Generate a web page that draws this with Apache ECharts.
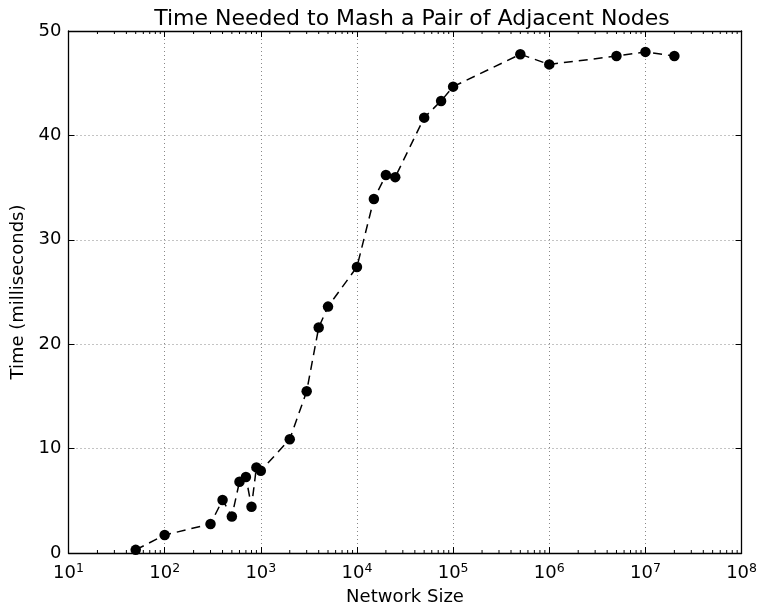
<!DOCTYPE html>
<html>
<head>
<meta charset="utf-8">
<script src="https://cdn.jsdelivr.net/npm/echarts@6/dist/echarts.min.js"></script>
<style>html,body{margin:0;padding:0;background:#fff}#c{width:760px;height:611px}</style>
</head>
<body>
<div id="c"></div>
<script>
const networkSizes = [50, 100, 300, 400, 500, 600, 700, 800, 900, 1000, 2000, 3000, 4000, 5000, 10000, 15000, 20000, 25000, 50000, 75000, 100000, 500000, 1000000, 5000000, 10000000, 20000000];
const timesMs = [0.3, 1.72, 2.78, 5.08, 3.5, 6.83, 7.28, 4.43, 8.2, 7.88, 10.9, 15.49, 21.6, 23.6, 27.4, 33.9, 36.2, 36.0, 41.7, 43.3, 44.67, 47.77, 46.8, 47.6, 48.0, 47.6];
const xMin = 10, xMax = 1e8;
const yMin = 0, yMax = 50, yStep = 10;
const titleText = 'Time Needed to Mash a Pair of Adjacent Nodes';
const xName = 'Network Size';
const yName = 'Time (milliseconds)';

// minor log ticks 2..9 x 10^n
const minorTicks = [];
for (let e = 1; e < 8; e++) for (let k = 2; k <= 9; k++) minorTicks.push([k * Math.pow(10, e), 0]);

const font = 'DejaVu Sans';
const chart = echarts.init(document.getElementById('c'), null, {renderer: 'canvas'});
const lbl = v => { const e = Math.round(Math.log10(v)); return '10{sup|' + e + '}'; };
const xAxisCommon = {
  type: 'log', logBase: 10, min: xMin, max: xMax,
  axisLine: {show: true, onZero: false, lineStyle: {color: '#000', width: 1.3}},
  axisTick: {show: true, inside: true, length: 6, lineStyle: {color: '#000', width: 1}},
  splitLine: {show: false}, minorTick: {show: false}
};
chart.setOption({
  animation: false,
  backgroundColor: '#fff',
  title: {
    text: titleText, left: 407, top: 3, textAlign: 'center',
    textStyle: {fontFamily: font, fontSize: 22, fontWeight: 'normal', color: '#000'}
  },
  grid: {left: 68.5, right: 14, top: 31, bottom: 58, containLabel: false},
  xAxis: [
    Object.assign({}, xAxisCommon, {
      position: 'bottom',
      name: xName, nameLocation: 'middle', nameGap: 35,
      nameTextStyle: {fontFamily: font, fontSize: 18, color: '#000'},
      splitLine: {show: true, lineStyle: {color: '#888', type: [1, 3], width: 1}},
      axisLabel: {
        formatter: lbl, margin: 9, fontFamily: font, fontSize: 18, color: '#000',
        rich: {sup: {fontFamily: font, fontSize: 12.5, color: '#000', verticalAlign: 'bottom', padding: [0, 0, 9, 0]}}
      }
    }),
    Object.assign({}, xAxisCommon, {position: 'top', axisLabel: {show: false}})
  ],
  yAxis: [
    {
      type: 'value', min: yMin, max: yMax, interval: yStep, position: 'left',
      name: yName, nameLocation: 'middle', nameGap: 37,
      nameTextStyle: {fontFamily: font, fontSize: 18, color: '#000'},
      axisLine: {show: true, onZero: false, lineStyle: {color: '#000', width: 1.3}},
      axisTick: {show: true, inside: true, length: 6, lineStyle: {color: '#000'}},
      splitLine: {show: true, lineStyle: {color: '#888', type: [1, 3], width: 1}},
      axisLabel: {margin: 7, fontFamily: font, fontSize: 18, color: '#000'}
    },
    {
      type: 'value', min: yMin, max: yMax, interval: yStep, position: 'right',
      axisLine: {show: true, onZero: false, lineStyle: {color: '#000', width: 1.3}},
      axisTick: {show: true, inside: true, length: 6, lineStyle: {color: '#000'}},
      splitLine: {show: false}, axisLabel: {show: false}
    }
  ],
  series: [
    {
      type: 'custom', xAxisIndex: 0, yAxisIndex: 0, silent: true, z: 3,
      data: minorTicks,
      renderItem: (params, api) => {
        const v = api.value(0);
        const b = api.coord([v, yMin]);
        const t = api.coord([v, yMax]);
        return {type: 'group', children: [
          {type: 'line', shape: {x1: b[0], y1: b[1], x2: b[0], y2: b[1] - 3}, style: {stroke: '#000', lineWidth: 1}},
          {type: 'line', shape: {x1: t[0], y1: t[1], x2: t[0], y2: t[1] + 3}, style: {stroke: '#000', lineWidth: 1}}
        ]};
      }
    },
    {
      type: 'line', xAxisIndex: 0, yAxisIndex: 0, z: 5,
      data: networkSizes.map((x, i) => [x, timesMs[i]]),
      symbol: 'circle', symbolSize: 10.5,
      itemStyle: {color: '#000'},
      lineStyle: {color: '#000', width: 1.5, type: [9, 6]}
    }
  ]
});
</script>
</body>
</html>
